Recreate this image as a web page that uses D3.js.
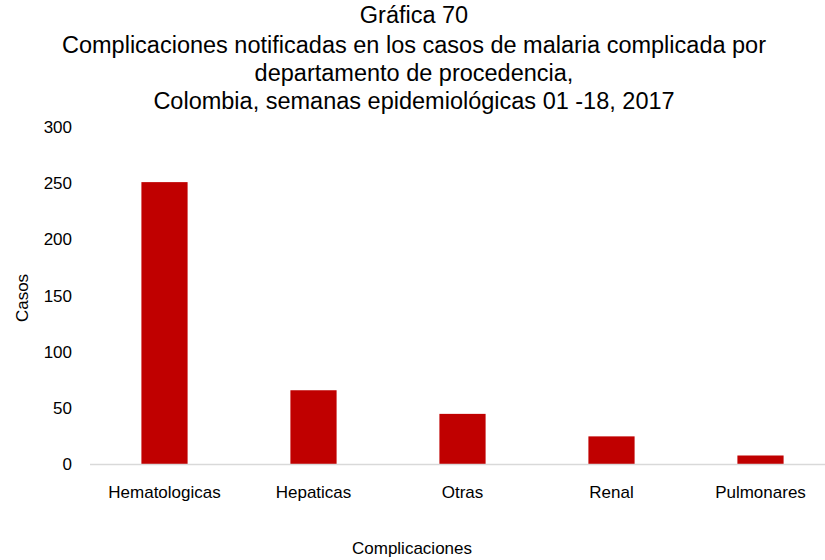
<!DOCTYPE html>
<html>
<head>
<meta charset="utf-8">
<script src="https://cdn.jsdelivr.net/npm/d3@7"></script>
<style>
  html, body { margin: 0; padding: 0; background: #fff; }
  text { font-family: "Liberation Sans", Arial, sans-serif; fill: #000; }
</style>
</head>
<body>
<svg id="chart" width="825" height="560"></svg>
<script>
const titleLines = [
  "Gráfica 70",
  "Complicaciones notificadas en los casos de malaria complicada por",
  "departamento de procedencia,",
  "Colombia, semanas epidemiológicas 01 -18, 2017"
];
const categories = ["Hematologicas", "Hepaticas", "Otras", "Renal", "Pulmonares"];
const values = [251, 66, 45, 25, 8];
const yTicks = [0, 50, 100, 150, 200, 250, 300];
const xAxisTitle = "Complicaciones";
const yAxisTitle = "Casos";

const svg = d3.select("#chart");
const x = d3.scaleBand().domain(categories).range([90, 835]).paddingInner(0.69).paddingOuter(0.345);
const y = d3.scaleLinear().domain([0, 300]).range([464.5, 127]);

// title
const titleY = [15, 45, 73, 101];
svg.append("g").selectAll("text").data(titleLines).join("text")
  .attr("x", 414).attr("y", (d, i) => titleY[i])
  .attr("dy", "0.35em")
  .attr("text-anchor", "middle")
  .style("font-size", "23.5px")
  .text(d => d);

// bars
svg.append("g").selectAll("rect").data(values).join("rect")
  .attr("x", (d, i) => x(categories[i]))
  .attr("width", x.bandwidth())
  .attr("y", d => y(d))
  .attr("height", d => y(0) - y(d))
  .attr("fill", "#c00000");

// y axis labels
const yAxis = d3.axisLeft(y).tickValues(yTicks).tickSize(0).tickPadding(18);
const gy = svg.append("g").attr("transform", "translate(90,0)").call(yAxis);
gy.select(".domain").remove();
gy.attr("font-family", null).attr("font-size", null);
gy.selectAll("text").style("font-size", "17px").attr("fill", "#000");

// x axis
const xAxis = d3.axisBottom(x).tickSize(0).tickPadding(21);
const gx = svg.append("g").attr("transform", `translate(0,${y(0)})`).call(xAxis);
gx.select(".domain").attr("stroke", "#d9d9d9").attr("stroke-width", 1.5).attr("d", "M90,0H825");
gx.attr("font-family", null).attr("font-size", null);
gx.selectAll("text").style("font-size", "17px").attr("fill", "#000");

// axis titles
svg.append("text").attr("x", 412).attr("y", 548).attr("dy", "0.35em")
  .attr("text-anchor", "middle").style("font-size", "17px").text(xAxisTitle);
svg.append("text").attr("transform", "translate(22,298) rotate(-90)").attr("dy", "0.35em")
  .attr("text-anchor", "middle").style("font-size", "17px").text(yAxisTitle);
</script>
</body>
</html>
